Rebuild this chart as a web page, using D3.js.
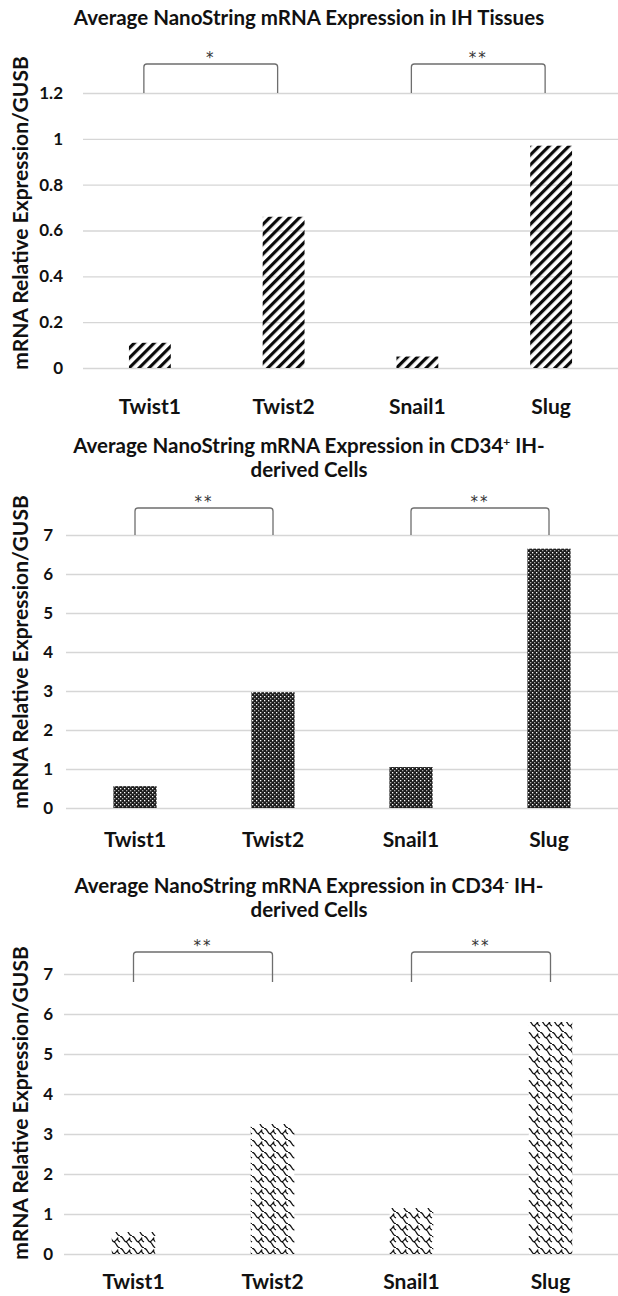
<!DOCTYPE html>
<html>
<head>
<meta charset="utf-8">
<script src="https://cdn.jsdelivr.net/npm/d3@7"></script>
<style>
  body { margin: 0; background: #fff; }
</style>
</head>
<body>
<div id="canvas"></div>
<script>
// data
const categories = ['Twist1', 'Twist2', 'Snail1', 'Slug'];
const tissueValues = [0.11, 0.66, 0.05, 0.97];
const cd34PosValues = [0.56, 2.97, 1.05, 6.65];
const cd34NegValues = [0.55, 3.25, 1.15, 5.8];
const tissueTicks = [0, 0.2, 0.4, 0.6, 0.8, 1, 1.2];
const cellTicks = [0, 1, 2, 3, 4, 5, 6, 7];
const tissueBrackets = [['Twist1', 'Twist2', '*'], ['Snail1', 'Slug', '**']];
const cellBrackets = [['Twist1', 'Twist2', '**'], ['Snail1', 'Slug', '**']];
const yTitle = 'mRNA Relative Expression/GUSB';

const W = 618, H = 1296,
    font = 'Lato, "Open Sans", sans-serif',
    gridColor = '#d6d6d6',
    bracketColor = '#6e6e6e';

const svg = d3.select('#canvas').append('svg')
    .attr('width', W)
    .attr('height', H)
    .style('display', 'block');

svg.append('rect').attr('width', W).attr('height', H).attr('fill', '#fff');

const defs = svg.append('defs');

// wide upward diagonal
defs.append('pattern')
    .attr('id', 'stripes')
    .attr('patternUnits', 'userSpaceOnUse')
    .attr('width', 7).attr('height', 7)
    .attr('patternTransform', 'rotate(45)')
  .append('rect')
    .attr('x', 0).attr('y', 0)
    .attr('width', 3.2).attr('height', 7)
    .attr('fill', '#0a0a0a');

// dense dotted grid
const dots = defs.append('pattern')
    .attr('id', 'dots')
    .attr('patternUnits', 'userSpaceOnUse')
    .attr('width', 4).attr('height', 4);
dots.append('rect').attr('width', 4).attr('height', 4).attr('fill', '#1c1c1c');
dots.append('rect').attr('x', 0).attr('y', 0).attr('width', 1.3).attr('height', 1.3).attr('fill', '#fff');
dots.append('rect').attr('x', 2).attr('y', 2).attr('width', 1.3).attr('height', 1.3).attr('fill', '#aaa');

// shingle
const shingle = defs.append('pattern')
    .attr('id', 'shingle')
    .attr('patternUnits', 'userSpaceOnUse')
    .attr('width', 12).attr('height', 12);
shingle.append('rect').attr('width', 12).attr('height', 12).attr('fill', '#fff');
shingle.append('path')
    .attr('d', 'M0,0 C4,1 3,5 6,6 C9,7 8,11 12,12 M6,6 C8,5 9,3 10,1.5 M0,6 C-2,5 -3,3 -2,1.5 M12,6 C10,5 9,3 10,1.5')
    .attr('fill', 'none')
    .attr('stroke', '#111')
    .attr('stroke-width', 1.3);

const panels = [
    {
        title: [['Average NanoString mRNA Expression in IH Tissues']],
        titleY: [25],
        values: tissueValues, ticks: tissueTicks, brackets: tissueBrackets,
        pattern: 'stripes',
        x0: 83, x1: 618, yTop: 93, yBot: 368,
        tickX: 63, labelY: 414, axisTitleY: 213,
        rise: 29, legExtra: 0, bracketShift: -6
    },
    {
        title: [['Average NanoString mRNA Expression in CD34', '+', ' IH-'], ['derived Cells']],
        titleY: [453, 477],
        values: cd34PosValues, ticks: cellTicks, brackets: cellBrackets,
        pattern: 'dots',
        x0: 66, x1: 618, yTop: 535, yBot: 808,
        tickX: 53, labelY: 847, axisTitleY: 652,
        rise: 27, legExtra: 0, bracketShift: 0
    },
    {
        title: [['Average NanoString mRNA Expression in CD34', '-', ' IH-'], ['derived Cells']],
        titleY: [893, 917],
        values: cd34NegValues, ticks: cellTicks, brackets: cellBrackets,
        pattern: 'shingle',
        x0: 64, x1: 620, yTop: 974, yBot: 1254,
        tickX: 53, labelY: 1289, axisTitleY: 1103,
        rise: 22, legExtra: 8, bracketShift: 0
    }
];

panels.forEach(p => {
    const g = svg.append('g');

    const x = d3.scaleBand()
        .domain(categories)
        .range([p.x0, p.x1])
        .paddingInner(0.687)
        .paddingOuter(0.3435);

    const yMax = p.ticks[p.ticks.length - 1];
    const y = d3.scaleLinear()
        .domain([0, yMax])
        .range([p.yBot, p.yTop]);

    // title
    p.title.forEach((parts, i) => {
        const t = g.append('text')
            .attr('x', W / 2)
            .attr('y', p.titleY[i])
            .attr('text-anchor', 'middle')
            .attr('font-family', font)
            .attr('font-weight', 700)
            .attr('font-size', '20.5px')
            .attr('fill', '#111');
        t.append('tspan').text(parts[0]);
        if (parts.length > 1) {
            t.append('tspan')
                .attr('baseline-shift', 'super')
                .attr('font-size', '12px')
                .text(parts[1]);
            t.append('tspan')
                .text(parts[2]);
        }
    });

    // grid + tick labels
    const axis = g.append('g')
        .attr('transform', 'translate(' + p.x0 + ',0)')
        .call(d3.axisLeft(y)
            .tickValues(p.ticks)
            .tickFormat(d => String(d))
            .tickSize(-(p.x1 - p.x0))
            .tickPadding(p.x0 - p.tickX));
    axis.select('.domain').remove();
    axis.selectAll('line')
        .attr('stroke', gridColor)
        .attr('stroke-width', 1.4);
    axis.selectAll('text')
        .attr('font-family', font)
        .attr('font-weight', 700)
        .attr('font-size', '17px')
        .attr('fill', '#111');

    // bars
    g.selectAll('.bar')
        .data(p.values)
        .join('rect')
        .attr('class', 'bar')
        .attr('x', (d, i) => x(categories[i]))
        .attr('y', d => y(d))
        .attr('width', x.bandwidth())
        .attr('height', d => y(0) - y(d))
        .attr('fill', 'url(#' + p.pattern + ')');

    // category labels
    g.selectAll('.cat')
        .data(categories)
        .join('text')
        .attr('class', 'cat')
        .attr('x', d => x(d) + x.bandwidth() / 2)
        .attr('y', p.labelY)
        .attr('text-anchor', 'middle')
        .attr('font-family', font)
        .attr('font-weight', 700)
        .attr('font-size', '21px')
        .attr('fill', '#111')
        .text(d => d);

    // y axis title
    g.append('text')
        .attr('transform', 'translate(28,' + p.axisTitleY + ')rotate(-90)')
        .attr('text-anchor', 'middle')
        .attr('font-family', font)
        .attr('font-weight', 700)
        .attr('font-size', '21px')
        .attr('fill', '#111')
        .text(yTitle);

    // significance brackets
    const topY = y(yMax) - p.rise,
        legY = y(yMax) + p.legExtra,
        r = 3;
    p.brackets.forEach(b => {
        const xa = x(b[0]) + x.bandwidth() / 2 + p.bracketShift,
            xb = x(b[1]) + x.bandwidth() / 2 + p.bracketShift;
        g.append('path')
            .attr('d', 'M' + xa + ',' + legY + 'V' + (topY + r) +
                'Q' + xa + ',' + topY + ' ' + (xa + r) + ',' + topY +
                'H' + (xb - r) +
                'Q' + xb + ',' + topY + ' ' + xb + ',' + (topY + r) +
                'V' + legY)
            .attr('fill', 'none')
            .attr('stroke', bracketColor)
            .attr('stroke-width', 1.3);
        g.append('text')
            .attr('x', (xa + xb) / 2)
            .attr('y', topY - 1)
            .attr('text-anchor', 'middle')
            .attr('font-family', '"DejaVu Sans", sans-serif')
            .attr('font-size', '15px')
            .attr('letter-spacing', '2px')
            .attr('fill', '#333')
            .text(b[2]);
    });
});
</script>
</body>
</html>
